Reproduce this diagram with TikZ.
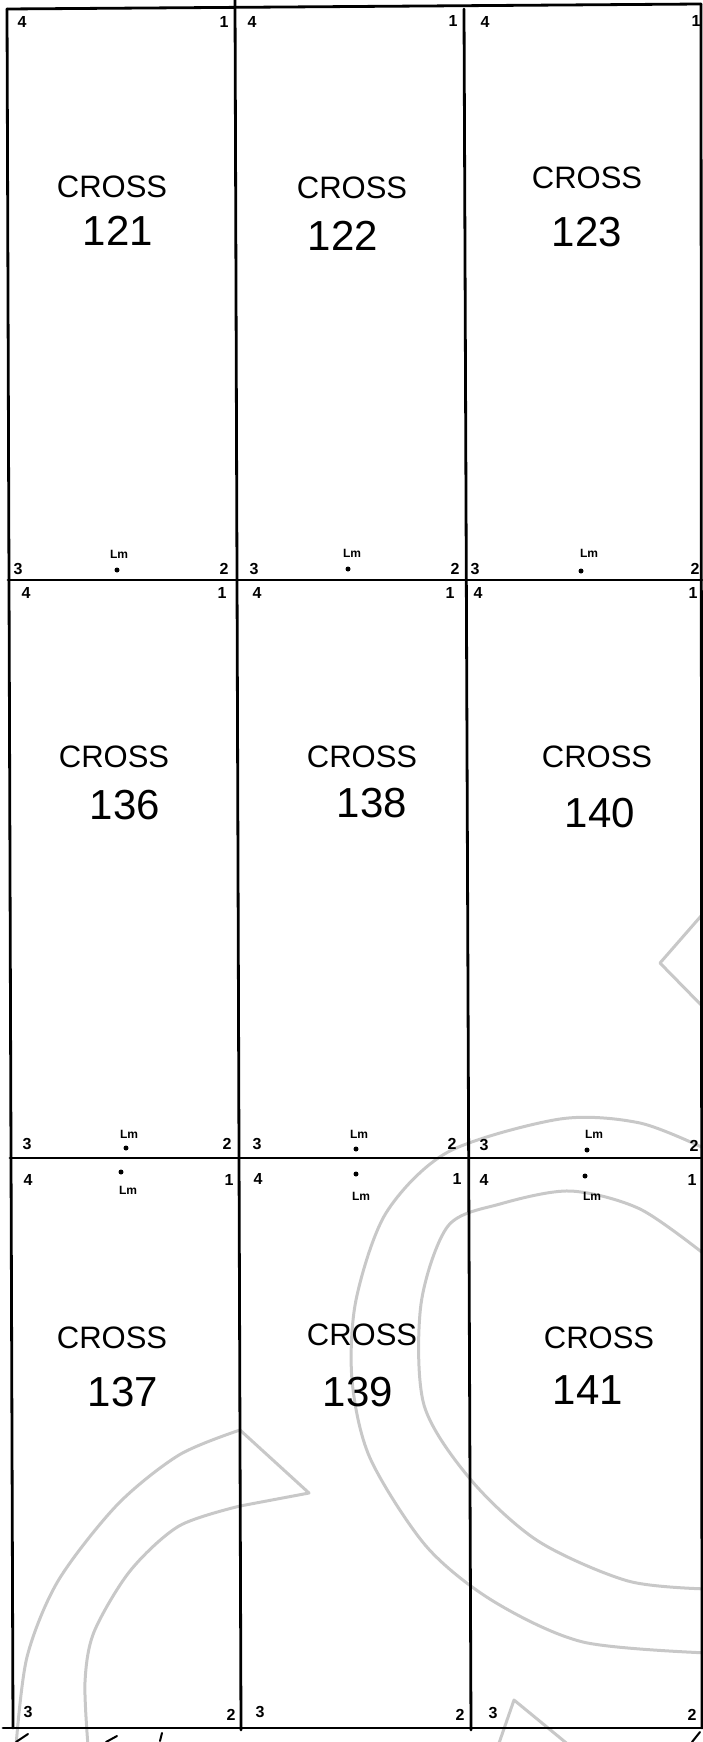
\documentclass[tikz,border=0pt]{standalone}
\usepackage{fontspec}
\setmainfont{Liberation Sans}
\definecolor{wm}{RGB}{200,200,200}
\begin{document}
\begin{tikzpicture}[x=1pt,y=-1pt,
  frame/.style={line width=2.8pt, line cap=round},
  wmline/.style={wm, line width=3pt, line join=round},
  crosslbl/.style={font=\fontsize{31}{31}\selectfont, inner sep=0pt},
  numlbl/.style={font=\fontsize{42}{42}\selectfont, inner sep=0pt},
  corner/.style={font=\bfseries\fontsize{16}{16}\selectfont, inner sep=0pt},
  lmlbl/.style={font=\bfseries\fontsize{12}{12}\selectfont, inner sep=0pt},
  lmdot/.style={circle, fill=black, inner sep=0pt, minimum size=5pt},
  speck/.style={line width=2pt, line cap=round}
]
\useasboundingbox (0,0) rectangle (703,1742);
% ---------- watermark ----------
\begin{scope}
\clip (0,0) rectangle (703,1742);
\draw[wmline] plot[smooth] coordinates {(708,1150) (640,1123) (560,1119) (448,1152) (386,1213) (356,1300) (352,1380) (370,1458) (426,1546) (493,1601) (583,1642) (708,1653)};
\draw[wmline] plot[smooth] coordinates {(708,1257) (640,1209) (570,1191) (500,1204) (448,1226) (421,1304) (424,1405) (471,1480) (538,1541) (628,1581) (708,1589)};
\draw[wmline] plot[smooth] coordinates {(16,1746) (27,1657) (58,1581) (117,1505) (179,1455) (240,1430)};
\draw[wmline] (240,1430) -- (309,1493) -- (240,1506);
\draw[wmline] plot[smooth] coordinates {(240,1506) (179,1526) (130,1571) (94,1632) (85,1682) (88,1746)};
\draw[wmline] (708,908) -- (660,963) -- (708,1012);
\draw[wmline] (498,1746) -- (514,1700) -- (570,1746);
\end{scope}
% ---------- grid ----------
\coordinate (tl) at (7,9);   \coordinate (bl) at (13,1728);
\coordinate (t1) at (235,0); \coordinate (b1) at (241,1730);
\coordinate (t2) at (464,9); \coordinate (b2) at (471,1730);
\coordinate (tr) at (701,4); \coordinate (br) at (702,1728);
\coordinate (h1l) at (8,580);  \coordinate (h1r) at (702,580);
\coordinate (h2l) at (10,1158); \coordinate (h2r) at (702,1158);
\coordinate (bbl) at (3,1728); \coordinate (bbr) at (703,1728);
\draw[frame] (tl) -- (bl);
\draw[frame] (t1) -- (b1);
\draw[frame] (t2) -- (b2);
\draw[frame] (tr) -- (br);
\draw[frame] (tl) -- (tr);
\draw[frame] (h1l) -- (h1r);
\draw[frame] (h2l) -- (h2r);
\draw[frame] (bbl) -- (bbr);
% ---------- cross labels ----------
\node[crosslbl] (c121) at (112,187) {CROSS};
\node[numlbl]   (n121) at (118,231) {121};
\node[crosslbl] (c122) at (352,188) {CROSS};
\node[numlbl]   (n122) at (343,236) {122};
\node[crosslbl] (c123) at (587,178) {CROSS};
\node[numlbl]   (n123) at (587,232) {123};
\node[crosslbl] (c136) at (114,757) {CROSS};
\node[numlbl]   (n136) at (125,805) {136};
\node[crosslbl] (c138) at (362,757) {CROSS};
\node[numlbl]   (n138) at (372,803) {138};
\node[crosslbl] (c140) at (597,757) {CROSS};
\node[numlbl]   (n140) at (600,813) {140};
\node[crosslbl] (c137) at (112,1338) {CROSS};
\node[numlbl]   (n137) at (123,1392) {137};
\node[crosslbl] (c139) at (362,1335) {CROSS};
\node[numlbl]   (n139) at (358,1392) {139};
\node[crosslbl] (c141) at (599,1338) {CROSS};
\node[numlbl]   (n141) at (588,1390) {141};
% ---------- corner numbers ----------
% row 1
\node[corner] (a4) at (22,22) {4};   \node[corner] (a1) at (224,22) {1};
\node[corner] (b4) at (252,22) {4};  \node[corner] (b1n) at (453,21) {1};
\node[corner] (c4) at (485,22) {4};  \node[corner] (c1) at (696,21) {1};
\node[corner] (a3) at (18,569) {3};  \node[corner] (a2) at (224,569) {2};
\node[corner] (b3) at (254,569) {3}; \node[corner] (b2n) at (455,569) {2};
\node[corner] (c3) at (475,569) {3}; \node[corner] (c2) at (695,569) {2};
% row 2
\node[corner] (d4) at (26,593) {4};  \node[corner] (d1) at (222,593) {1};
\node[corner] (e4) at (257,593) {4}; \node[corner] (e1) at (450,593) {1};
\node[corner] (f4) at (478,593) {4}; \node[corner] (f1) at (693,593) {1};
\node[corner] (d3) at (27,1144) {3}; \node[corner] (d2) at (227,1144) {2};
\node[corner] (e3) at (257,1144) {3};\node[corner] (e2) at (452,1144) {2};
\node[corner] (f3) at (484,1145) {3};\node[corner] (f2) at (694,1146) {2};
% row 3
\node[corner] (g4) at (28,1180) {4}; \node[corner] (g1) at (229,1180) {1};
\node[corner] (h4) at (258,1179) {4};\node[corner] (h1) at (457,1179) {1};
\node[corner] (i4) at (484,1180) {4};\node[corner] (i1) at (692,1180) {1};
\node[corner] (g3) at (28,1712) {3}; \node[corner] (g2) at (231,1715) {2};
\node[corner] (h3) at (260,1712) {3};\node[corner] (h2) at (460,1715) {2};
\node[corner] (i3) at (493,1713) {3};\node[corner] (i2) at (692,1715) {2};
% ---------- Lm marks ----------
\node[lmlbl] (lm1) at (119,554) {Lm};  \node[lmdot] (dm1) at (117,570) {};
\node[lmlbl] (lm2) at (352,553) {Lm};  \node[lmdot] (dm2) at (348,569) {};
\node[lmlbl] (lm3) at (589,553) {Lm};  \node[lmdot] (dm3) at (581,571) {};
\node[lmlbl] (lm4) at (129,1134) {Lm}; \node[lmdot] (dm4) at (126,1148) {};
\node[lmlbl] (lm5) at (359,1134) {Lm}; \node[lmdot] (dm5) at (356,1149) {};
\node[lmlbl] (lm6) at (594,1134) {Lm}; \node[lmdot] (dm6) at (587,1150) {};
\node[lmdot] (dm7) at (121,1172) {};   \node[lmlbl] (lm7) at (128,1190) {Lm};
\node[lmdot] (dm8) at (356,1174) {};   \node[lmlbl] (lm8) at (361,1196) {Lm};
\node[lmdot] (dm9) at (585,1176) {};   \node[lmlbl] (lm9) at (592,1196) {Lm};
% ---------- cut-off strokes below the bottom line ----------
\draw[speck] (16,1742) -- (28,1734);
\draw[speck] (106,1742) -- (117,1736);
\draw[speck] (160,1741) -- (162,1733);
\draw[speck] (692,1742) -- (700,1732);
\end{tikzpicture}
\end{document}
